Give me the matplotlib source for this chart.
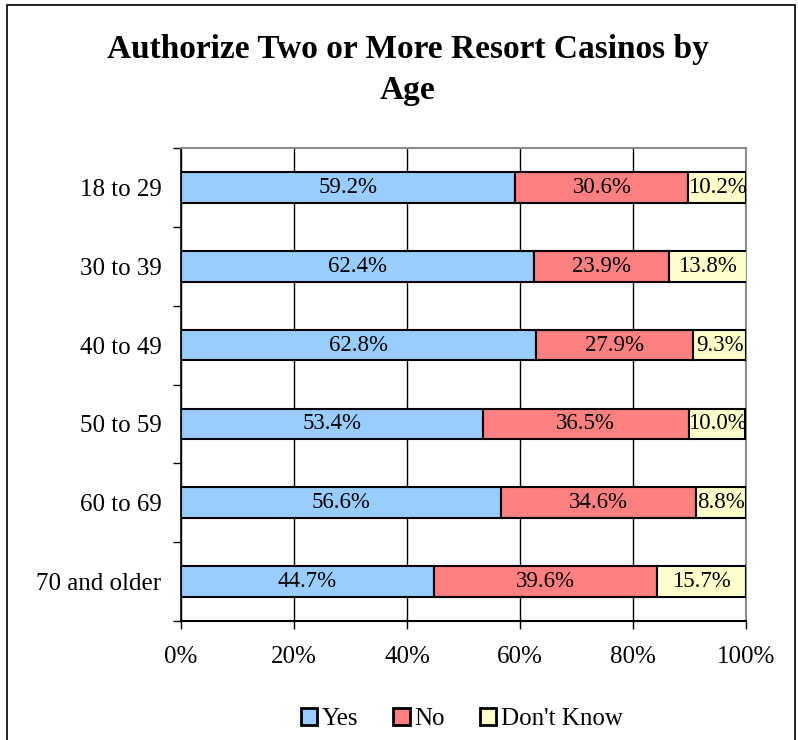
import matplotlib.pyplot as plt
import numpy as np
from matplotlib.patches import Rectangle

# Data
# ----------------------------------------------------------------------------

ages = ['18 to 29', '30 to 39', '40 to 49', '50 to 59', '60 to 69', '70 and older']
yes = [59.2, 62.4, 62.8, 53.4, 56.6, 44.7]
no = [30.6, 23.9, 27.9, 36.5, 34.6, 39.6]
dont_know = [10.2, 13.8, 9.3, 10.0, 8.8, 15.7]
series_names = ['Yes', 'No', "Don't Know"]
colors = ['#99CCFF', '#FF8080', '#FFFFCC']
xticks = [0, 20, 40, 60, 80, 100]

# Plot
# ----------------------------------------------------------------------------

plt.rcParams['font.family'] = 'Liberation Serif'

fig = plt.figure(figsize=(7.98, 7.4), dpi=100)
ax = fig.add_axes([0.2268, 0.1608, 0.708, 0.6392])

# outer chart frame
fig.patches.append(Rectangle((7 / 798, -0.1), 788 / 798, 1.1 - 5 / 740,
                             transform=fig.transFigure, fill=False,
                             edgecolor='black', linewidth=1.2))

y = np.arange(len(ages))
left = np.zeros(len(ages))
for vals, name, col in zip([yes, no, dont_know], series_names, colors):
    vals = np.array(vals)
    ax.barh(y, vals, left=left, height=0.39, color=col, edgecolor='black',
            linewidth=1.5, label=name, zorder=3)
    for yi, l, v in zip(y, left, vals):
        ax.text(l + v / 2, yi, f'{v:.1f}%', ha='center', va='center',
                fontsize=16.5, zorder=4)
    left = left + vals

ax.set_xlim(0, 100)
ax.set_ylim(len(ages) - 0.5, -0.5)
ax.set_xticks(xticks)
ax.set_xticklabels([f'{t}%' for t in xticks], fontsize=18)
ax.set_yticks(np.arange(len(ages) + 1) - 0.5)
ax.set_yticklabels([])
ax.set_yticks(y, minor=True)
ax.set_yticklabels(ages, minor=True, fontsize=18)
ax.tick_params(axis='y', which='major', length=6, direction='out', width=1)
ax.tick_params(axis='y', which='minor', length=0, pad=14)
ax.tick_params(axis='x', length=6, direction='out', width=1, pad=12)

ax.xaxis.grid(True, color='black', linewidth=1, zorder=0)
ax.set_axisbelow(True)
ax.spines['top'].set_color('0.55')
ax.spines['right'].set_color('0.55')
ax.spines['top'].set_linewidth(1.5)
ax.spines['right'].set_linewidth(1.5)
ax.spines['left'].set_linewidth(1.2)
ax.spines['bottom'].set_linewidth(1.5)

fig.text(408 / 798, 1 - 70 / 740, 'Authorize Two or More Resort Casinos by\nAge',
         ha='center', va='center', fontsize=24, fontweight='bold',
         linespacing=1.45)

leg = fig.legend(loc='center', bbox_to_anchor=(462 / 798, 1 - 719 / 740), ncol=3,
                 frameon=False, fontsize=18, handlelength=0.65, handleheight=0.65,
                 handletextpad=0.2, columnspacing=1.4)
for h in leg.legend_handles:
    h.set_linewidth(2)

fig.savefig('out.png', dpi=100)
